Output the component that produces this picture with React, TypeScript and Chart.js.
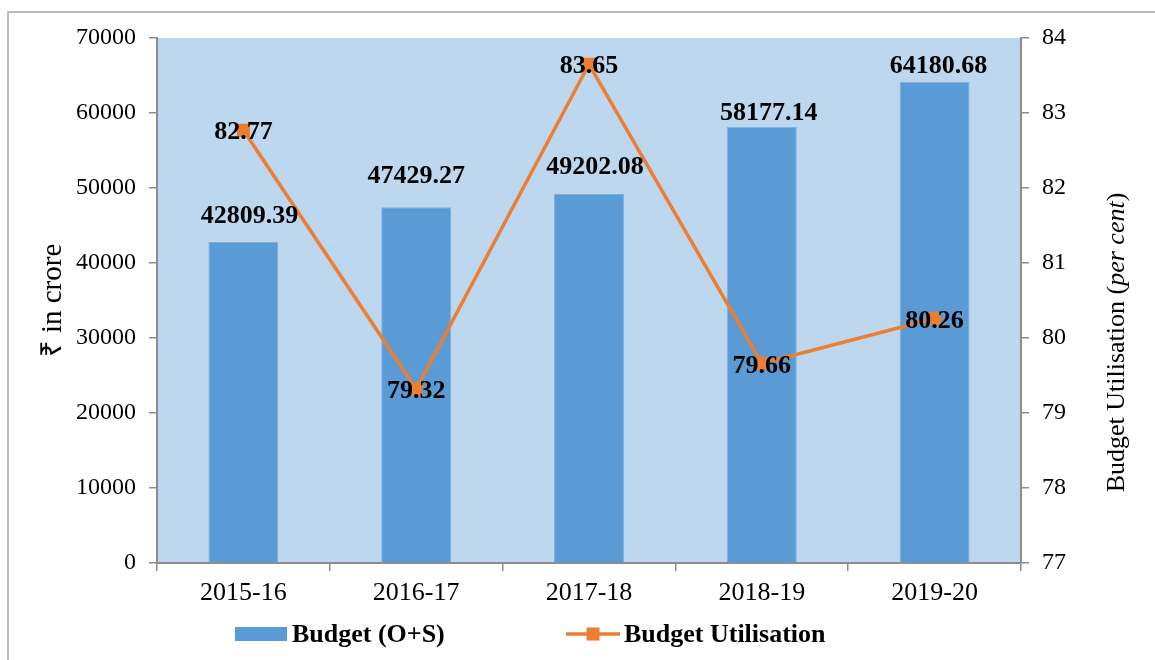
import { useEffect, useRef } from "react";
import { Chart, registerables } from "chart.js";

Chart.register(...registerables);

// ---- data ----
const categories = ["2015-16", "2016-17", "2017-18", "2018-19", "2019-20"];
const budgetValues = [42809.39, 47429.27, 49202.08, 58177.14, 64180.68];
const utilisationValues = [82.77, 79.32, 83.65, 79.66, 80.26];
const leftTicks = [0, 10000, 20000, 30000, 40000, 50000, 60000, 70000];
const rightTicks = [77, 78, 79, 80, 81, 82, 83, 84];
const seriesNames = ["Budget (O+S)", "Budget Utilisation"];
const leftAxisTitle = "₹ in crore";
const rightAxisTitleParts = ["Budget Utilisation (", "per cent", ")"];

// ---- layout nudges for the bar value labels (px) ----
const barLabelLift = [28, 33, 29, 16, 18];
const barLabelShift = [6, 0, 6, 7, 4];

const FONT = "'Liberation Serif', 'Times New Roman', serif";
const BAR = "#5B9BD5";
const LINE = "#ED7D31";
const AXIS = "#8C8C8C";

const decor = {
  id: "decor",
  beforeDraw(chart: any) {
    const { ctx, chartArea: a } = chart;
    ctx.save();
    ctx.fillStyle = "#BDD7EE";
    ctx.fillRect(a.left, a.top, a.right - a.left, a.bottom - a.top);
    ctx.strokeStyle = "#A6A6A6";
    ctx.lineWidth = 1.5;
    ctx.beginPath();
    ctx.moveTo(8, chart.height + 5);
    ctx.lineTo(8, 12);
    ctx.lineTo(chart.width + 5, 12);
    ctx.stroke();
    ctx.restore();
  },
  afterDatasetsDraw(chart: any) {
    const { ctx } = chart;
    ctx.save();
    ctx.font = `bold 26px ${FONT}`;
    ctx.fillStyle = "#000";
    ctx.textAlign = "center";
    ctx.textBaseline = "alphabetic";
    const barMeta = chart.getDatasetMeta(0);
    barMeta.data.forEach((el: any, i: number) => {
      ctx.fillText(budgetValues[i].toFixed(2), el.x + barLabelShift[i], el.y - barLabelLift[i] + 9);
    });
    const lineMeta = chart.getDatasetMeta(1);
    lineMeta.data.forEach((el: any, i: number) => {
      ctx.fillText(utilisationValues[i].toFixed(2), el.x, el.y + 9);
    });
    ctx.restore();
  },
  afterDraw(chart: any) {
    const { ctx, chartArea: a } = chart;
    ctx.save();
    // right axis title, reading bottom-to-top, with italic part
    const fonts = [`26px ${FONT}`, `italic 26px ${FONT}`, `26px ${FONT}`];
    let total = 0;
    const widths = rightAxisTitleParts.map((t, i) => {
      ctx.font = fonts[i];
      const w = ctx.measureText(t).width;
      total += w;
      return w;
    });
    ctx.translate(1124, (a.top + a.bottom) / 2 + 42);
    ctx.rotate(-Math.PI / 2);
    ctx.fillStyle = "#000";
    ctx.textAlign = "left";
    ctx.textBaseline = "alphabetic";
    let x = -total / 2;
    rightAxisTitleParts.forEach((t, i) => {
      ctx.font = fonts[i];
      ctx.fillText(t, x, 0);
      x += widths[i];
    });
    ctx.restore();

    // legend
    ctx.save();
    const ly = a.bottom + 71;
    const lx = a.left + 78;
    ctx.fillStyle = BAR;
    ctx.fillRect(lx, ly - 7, 52, 14);
    ctx.font = `bold 26px ${FONT}`;
    ctx.fillStyle = "#000";
    ctx.textAlign = "left";
    ctx.textBaseline = "alphabetic";
    ctx.fillText(seriesNames[0], lx + 57, ly + 8);
    const l2 = lx + 331;
    ctx.strokeStyle = LINE;
    ctx.lineWidth = 3.5;
    ctx.beginPath();
    ctx.moveTo(l2, ly);
    ctx.lineTo(l2 + 54, ly);
    ctx.stroke();
    ctx.fillStyle = LINE;
    ctx.fillRect(l2 + 27 - 6.5, ly - 6.5, 13, 13);
    ctx.fillStyle = "#000";
    ctx.fillText(seriesNames[1], l2 + 58, ly + 8);
    ctx.restore();
  },
};

export default function App() {
  const ref = useRef<HTMLCanvasElement | null>(null);

  useEffect(() => {
    if (!ref.current) return;
    const tickFont = { family: FONT, size: 24 };
    const chart = new Chart(ref.current, {
      type: "bar",
      data: {
        labels: categories,
        datasets: [
          {
            type: "bar",
            label: seriesNames[0],
            data: budgetValues,
            yAxisID: "y",
            backgroundColor: BAR,
            borderColor: "#7DB0DF",
            borderWidth: 1,
            categoryPercentage: 1,
            barPercentage: 0.405,
            order: 1,
          } as any,
          {
            type: "line",
            label: seriesNames[1],
            data: utilisationValues,
            yAxisID: "y1",
            borderColor: LINE,
            backgroundColor: LINE,
            borderWidth: 3.5,
            pointStyle: "rect",
            pointRadius: 9.2,
            pointBorderWidth: 0,
            tension: 0,
            order: 0,
          } as any,
        ],
      },
      options: {
        responsive: false,
        animation: false,
        devicePixelRatio: 1,
        layout: { padding: { top: 38, bottom: 42, left: 0, right: 0 } },
        plugins: { legend: { display: false }, tooltip: { enabled: false } },
        scales: {
          x: {
            grid: { offset: true, drawOnChartArea: false, tickLength: 8, color: AXIS, lineWidth: 1.5 },
            border: { color: AXIS, width: 2 },
            ticks: { color: "#000", font: { family: FONT, size: 26 }, padding: 7, maxRotation: 0, autoSkip: false },
            afterFit(s: any) {
              s.height = 55;
            },
          },
          y: {
            position: "left",
            min: leftTicks[0],
            max: leftTicks[leftTicks.length - 1],
            ticks: {
              stepSize: leftTicks[1] - leftTicks[0],
              color: "#000",
              font: tickFont,
              padding: 13,
              callback: (v: any) => String(v),
            },
            grid: { drawOnChartArea: false, tickLength: 8, color: AXIS, lineWidth: 1.5 },
            border: { color: AXIS, width: 2 },
            title: {
              display: true,
              text: leftAxisTitle,
              color: "#000",
              font: { family: FONT, size: 29 },
              padding: { top: 36, bottom: 0 },
            },
            afterFit(s: any) {
              s.width = 157;
            },
          },
          y1: {
            position: "right",
            min: rightTicks[0],
            max: rightTicks[rightTicks.length - 1],
            ticks: {
              stepSize: rightTicks[1] - rightTicks[0],
              color: "#000",
              font: tickFont,
              padding: 13,
              callback: (v: any) => String(v),
            },
            grid: { drawOnChartArea: false, tickLength: 8, color: AXIS, lineWidth: 1.5 },
            border: { color: AXIS, width: 2 },
            afterFit(s: any) {
              s.width = 134;
            },
          },
        },
      } as any,
      plugins: [decor],
    });
    return () => chart.destroy();
  }, []);

  return (
    <div style={{ position: "absolute", left: 0, top: 0, width: 1155, height: 660, background: "#fff" }}>
      <canvas ref={ref} width={1155} height={660} style={{ display: "block" }} />
    </div>
  );
}
